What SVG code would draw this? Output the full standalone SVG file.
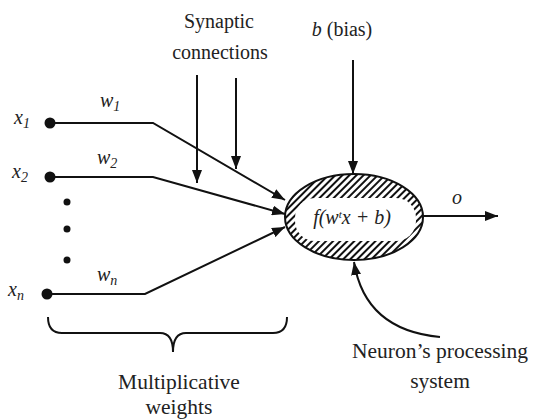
<svg xmlns="http://www.w3.org/2000/svg" width="533" height="419" viewBox="0 0 533 419">
  <style>
    .lbl { font-family: "Liberation Serif", "DejaVu Serif", serif; font-size: 20px; fill: #222; }
    .big { font-size: 21.5px; }
    .it { font-style: italic; }
    .ln { stroke: #111; stroke-width: 2; fill: none; }
  </style>
  <defs>
    <marker id="ah" viewBox="0 0 13 10" refX="13" refY="5" markerWidth="13" markerHeight="10" markerUnits="userSpaceOnUse" orient="auto">
      <path d="M0,0 L13,5 L0,10 Z" fill="#111"/>
    </marker>
    <pattern id="hatch" width="5" height="5" patternUnits="userSpaceOnUse" patternTransform="rotate(45)">
      <rect width="5" height="5" fill="#fff"/>
      <line x1="1" y1="0" x2="1" y2="5" stroke="#111" stroke-width="2"/>
    </pattern>
  </defs>
  <rect width="533" height="419" fill="#fff"/>

  <!-- neuron body -->
  <g id="neuron">
    <ellipse cx="354" cy="217" rx="69" ry="43" fill="url(#hatch)" stroke="#111" stroke-width="2"/>
    <rect x="295" y="198" width="121" height="43" rx="20" fill="#fff"/>
    <text class="lbl it" x="352" y="224" text-anchor="middle" font-size="17">f(w<tspan font-size="11" dy="-6">t</tspan><tspan dy="6">x + b)</tspan></text>
  </g>

  <!-- inputs -->
  <g id="input1">
    <circle cx="50" cy="123" r="5.5" fill="#111"/>
    <text class="lbl it" x="14" y="124">x<tspan font-size="14" dy="4">1</tspan></text>
  </g>
  <g id="input2">
    <circle cx="50" cy="177" r="5.5" fill="#111"/>
    <text class="lbl it" x="12" y="178">x<tspan font-size="14" dy="4">2</tspan></text>
  </g>
  <g id="input-dots">
    <circle cx="67" cy="202" r="3.5" fill="#111"/>
    <circle cx="67" cy="229" r="3.5" fill="#111"/>
    <circle cx="67" cy="260" r="3.5" fill="#111"/>
  </g>
  <g id="inputn">
    <circle cx="47" cy="294" r="5.5" fill="#111"/>
    <text class="lbl it" x="8" y="296">x<tspan font-size="14" dy="4">n</tspan></text>
  </g>

  <!-- weight labels -->
  <g id="weights">
    <text class="lbl it" x="100" y="107">w<tspan font-size="14" dy="4">1</tspan></text>
    <text class="lbl it" x="97" y="164">w<tspan font-size="14" dy="4">2</tspan></text>
    <text class="lbl it" x="97" y="281">w<tspan font-size="14" dy="4">n</tspan></text>
  </g>

  <!-- captions -->
  <g id="synaptic-label">
    <text class="lbl" x="219" y="28" text-anchor="middle">Synaptic</text>
    <text class="lbl" x="220" y="59" text-anchor="middle">connections</text>
  </g>
  <g id="bias-label">
    <text class="lbl" x="342" y="36" text-anchor="middle"><tspan class="it">b</tspan> (bias)</text>
  </g>
  <g id="output-label">
    <text class="lbl it" x="457" y="204" text-anchor="middle">o</text>
  </g>
  <g id="weights-label">
    <text class="lbl big" x="179" y="389" text-anchor="middle">Multiplicative</text>
    <text class="lbl big" x="179" y="414" text-anchor="middle">weights</text>
  </g>
  <g id="processing-label">
    <text class="lbl big" x="440" y="358" text-anchor="middle">Neuron’s processing</text>
    <text class="lbl big" x="440" y="388" text-anchor="middle">system</text>
  </g>

  <!-- connectors -->
  <g id="connectors">
    <polyline class="ln" points="50,123 153,123 285,200" marker-end="url(#ah)"/>
    <polyline class="ln" points="50,177 153,177 285,214" marker-end="url(#ah)"/>
    <polyline class="ln" points="47,294 145,294 285,227" marker-end="url(#ah)"/>
    <line class="ln" x1="197" y1="75" x2="197" y2="183" marker-end="url(#ah)"/>
    <line class="ln" x1="236" y1="78" x2="236" y2="169" marker-end="url(#ah)"/>
    <line class="ln" x1="353" y1="60" x2="353" y2="174" marker-end="url(#ah)"/>
    <line class="ln" x1="423" y1="216" x2="498" y2="216" marker-end="url(#ah)"/>
    <path class="ln" d="M440,337 Q365,330 354,262" marker-end="url(#ah)"/>
    <!-- brace under the weights -->
    <path class="ln" d="M48,317 Q48,333 62,333 L160,333 Q173,333 173,352 Q173,333 186,333 L273,333 Q287,333 287,317"/>
  </g>
</svg>
